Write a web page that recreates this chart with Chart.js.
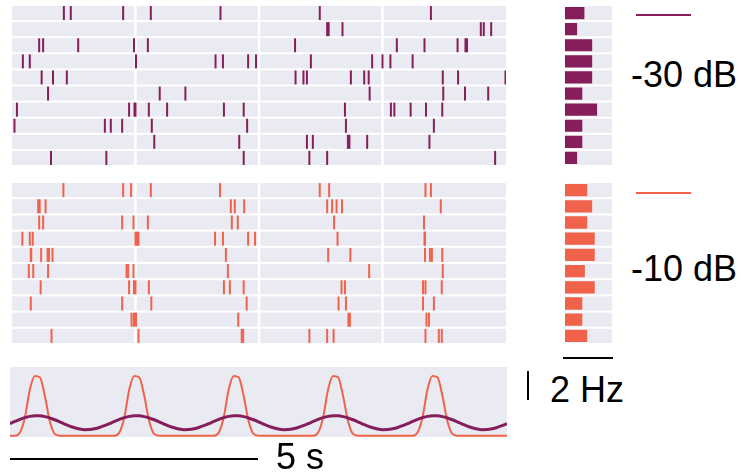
<!DOCTYPE html>
<html>
<head>
<meta charset="utf-8">
<script src="https://cdn.jsdelivr.net/npm/chart.js@4"></script>
<style>
  body { margin: 0; background: #fff; width: 741px; height: 473px; position: relative; overflow: hidden; }
  canvas, .lbl, .bar { position: absolute; }
  .lbl { font-family: "Liberation Sans", Arial, sans-serif; font-size: 36px; line-height: 36px; color: #000; white-space: nowrap; }
  .bar { background: #000; }
</style>
</head>
<body>
<canvas id="rasterQuiet" width="494" height="161" style="left:12px;top:5px"></canvas>
<canvas id="rasterLoud" width="494" height="162" style="left:12px;top:182px"></canvas>
<canvas id="histQuiet" width="47" height="161" style="left:565px;top:5px"></canvas>
<canvas id="histLoud" width="47" height="162" style="left:565px;top:182px"></canvas>
<canvas id="stim" width="497" height="70" style="left:10px;top:367px"></canvas>

<div class="bar" style="left:636px;top:14px;width:55px;height:2px;background:#851e5a"></div>
<div class="bar" style="left:636px;top:192px;width:55px;height:2px;background:#f1624a"></div>
<div class="lbl" style="left:631px;top:57px">-30 dB</div>
<div class="lbl" style="left:631px;top:251px">-10 dB</div>
<div class="bar" style="left:563px;top:357px;width:50px;height:2px"></div>
<div class="bar" style="left:527px;top:371px;width:2px;height:29px"></div>
<div class="lbl" style="left:550px;top:372px">2 Hz</div>
<div class="bar" style="left:10px;top:458px;width:248px;height:2px"></div>
<div class="lbl" style="left:276px;top:439px">5 s</div>

<script>
// colours
const PURPLE = "#851e5a";
const ORANGE = "#f1624a";
const GRAY = "#eaeaf2";

// trials and the 2.5 s blocks each raster row is split into
const trials = [1, 2, 3, 4, 5, 6, 7, 8, 9, 10];
const segmentEdges = [0, 2.5, 5, 7.5, 10];

// spike times (s), one list per trial
const quietSpikes = [
    [1.05, 1.19, 2.25, 2.81, 4.22, 6.23, 8.48],
    [6.38, 6.41, 6.69, 9.49, 9.55, 9.70],
    [0.55, 0.63, 1.34, 2.47, 2.75, 5.73, 7.79, 8.35, 9.02, 9.18, 9.21],
    [0.22, 0.36, 2.51, 4.12, 4.27, 4.78, 4.94, 6.05, 7.29, 7.50, 7.66, 8.11],
    [0.60, 0.83, 1.11, 5.74, 5.90, 5.97, 6.86, 7.13, 7.22, 8.72, 9.03, 9.99],
    [0.73, 2.99, 3.51, 7.24, 8.73, 9.17, 9.64],
    [0.10, 2.37, 2.48, 2.50, 2.77, 3.14, 4.29, 4.69, 6.74, 7.67, 7.74, 8.07, 8.38, 8.71],
    [0.05, 1.88, 2.00, 2.23, 2.83, 4.76, 6.76, 8.54],
    [2.88, 4.60, 5.97, 6.09, 6.80, 6.83, 7.19, 8.45],
    [0.79, 1.91, 4.69, 6.02, 6.38, 9.78],
];

const loudSpikes = [
    [1.04, 2.25, 2.41, 2.81, 4.21, 6.23, 6.42, 8.37, 8.48],
    [0.53, 0.56, 0.68, 4.43, 4.51, 4.70, 6.38, 6.48, 6.57, 6.68, 8.68],
    [0.55, 0.63, 2.23, 2.46, 2.75, 4.45, 4.57, 6.52, 8.34],
    [0.21, 0.36, 0.42, 2.50, 2.53, 2.56, 4.11, 4.27, 4.78, 4.92, 6.59, 8.35, 8.36],
    [0.38, 0.39, 0.59, 0.72, 0.75, 0.82, 4.33, 6.40, 6.85, 8.36, 8.46, 8.50, 8.71],
    [0.34, 0.43, 0.73, 2.32, 2.35, 2.46, 4.37, 7.23, 8.72],
    [0.58, 2.37, 2.47, 2.50, 2.77, 4.29, 4.41, 4.69, 6.67, 6.74, 8.32, 8.37, 8.70],
    [0.38, 2.23, 2.82, 4.75, 6.61, 6.76, 8.32, 8.54],
    [2.42, 2.47, 2.51, 4.58, 6.81, 6.84, 8.39, 8.44],
    [0.80, 2.56, 4.65, 4.68, 6.02, 6.38, 6.51, 8.37, 8.64, 8.70],
];

// mean rate per trial (Hz)
const quietRate = [0.87, 0.56, 1.20, 1.20, 1.20, 0.78, 1.41, 0.78, 0.78, 0.56];
const loudRate = [0.99, 1.20, 0.99, 1.31, 1.31, 0.89, 1.31, 0.78, 0.78, 0.99];

// stimulus envelopes (Hz) against time (s)
const stimTime = [
    0, 0.1, 0.2, 0.3, 0.4, 0.5, 0.6, 0.7, 0.8, 0.9, 1, 1.1, 1.2, 1.3, 1.4, 1.5, 1.6, 1.7, 1.8, 1.9,
    2, 2.1, 2.2, 2.3, 2.4, 2.5, 2.6, 2.7, 2.8, 2.9, 3, 3.1, 3.2, 3.3, 3.4, 3.5, 3.6, 3.7, 3.8, 3.9,
    4, 4.1, 4.2, 4.3, 4.4, 4.5, 4.6, 4.7, 4.8, 4.9, 5, 5.1, 5.2, 5.3, 5.4, 5.5, 5.6, 5.7, 5.8, 5.9,
    6, 6.1, 6.2, 6.3, 6.4, 6.5, 6.6, 6.7, 6.8, 6.9, 7, 7.1, 7.2, 7.3, 7.4, 7.5, 7.6, 7.7, 7.8, 7.9,
    8, 8.1, 8.2, 8.3, 8.4, 8.5, 8.6, 8.7, 8.8, 8.9, 9, 9.1, 9.2, 9.3, 9.4, 9.5, 9.6, 9.7, 9.8, 9.9,
    10,
];
const stimQuiet = [
    0.93, 1.10, 1.26, 1.39, 1.49, 1.54, 1.53, 1.47, 1.37, 1.23, 1.07, 0.90, 0.74, 0.61, 0.51, 0.46, 0.47, 0.53, 0.63, 0.77,
    0.93, 1.10, 1.26, 1.39, 1.49, 1.54, 1.53, 1.47, 1.37, 1.23, 1.07, 0.90, 0.74, 0.61, 0.51, 0.46, 0.47, 0.53, 0.63, 0.77,
    0.93, 1.10, 1.26, 1.39, 1.49, 1.54, 1.53, 1.47, 1.37, 1.23, 1.07, 0.90, 0.74, 0.61, 0.51, 0.46, 0.47, 0.53, 0.63, 0.77,
    0.93, 1.10, 1.26, 1.39, 1.49, 1.54, 1.53, 1.47, 1.37, 1.23, 1.07, 0.90, 0.74, 0.61, 0.51, 0.46, 0.47, 0.53, 0.63, 0.77,
    0.93, 1.10, 1.26, 1.39, 1.49, 1.54, 1.53, 1.47, 1.37, 1.23, 1.07, 0.90, 0.74, 0.61, 0.51, 0.46, 0.47, 0.53, 0.63, 0.77,
    0.93,
];
const stimLoud = [
    0, 0, 0.24, 1.41, 3.57, 4.61, 4.51, 3.10, 1.13, 0.14, 0, 0, 0, 0, 0, 0, 0, 0, 0, 0,
    0, 0, 0.24, 1.41, 3.57, 4.61, 4.51, 3.10, 1.13, 0.14, 0, 0, 0, 0, 0, 0, 0, 0, 0, 0,
    0, 0, 0.24, 1.41, 3.57, 4.61, 4.51, 3.10, 1.13, 0.14, 0, 0, 0, 0, 0, 0, 0, 0, 0, 0,
    0, 0, 0.24, 1.41, 3.57, 4.61, 4.51, 3.10, 1.13, 0.14, 0, 0, 0, 0, 0, 0, 0, 0, 0, 0,
    0, 0, 0.24, 1.41, 3.57, 4.61, 4.51, 3.10, 1.13, 0.14, 0, 0, 0, 0, 0, 0, 0, 0, 0, 0,
    0,
];

// gray row backgrounds, drawn before the marks
const bands = {
    id: "bands",
    beforeDatasetsDraw(chart, args, opts) {
        const { ctx, chartArea, scales } = chart;
        ctx.save();
        ctx.fillStyle = GRAY;
        if (opts.mode === "raster") {
            trials.forEach((r) => {
                const y0 = scales.y.getPixelForValue(r - 0.5);
                const y1 = scales.y.getPixelForValue(r + 0.5);
                for (let i = 0; i < segmentEdges.length - 1; i++) {
                    const xa = scales.x.getPixelForValue(segmentEdges[i]) + (i > 0 ? 1.2 : 0);
                    const xb = scales.x.getPixelForValue(segmentEdges[i + 1]) - (i < segmentEdges.length - 2 ? 1.2 : 0);
                    ctx.fillRect(xa, Math.min(y0, y1) + 1, xb - xa, Math.abs(y1 - y0) - 2);
                }
            });
        } else if (opts.mode === "hist") {
            const pitch = chartArea.height / trials.length;
            trials.forEach((r, i) => {
                const yc = scales.y.getPixelForValue(i);
                ctx.fillRect(chartArea.left, yc - pitch / 2 + 1, chartArea.width, pitch - 2);
            });
        } else {
            ctx.fillRect(chartArea.left, chartArea.top, chartArea.width, chartArea.height);
        }
        ctx.restore();
    },
};

const hidden = { display: false };
const flat = { autoPadding: false, padding: 0 };

function raster(id, spikes, color) {
    const pts = [];
    spikes.forEach((row, i) => row.forEach((t) => pts.push({ x: t, y: trials[i] })));
    new Chart(document.getElementById(id), {
        type: "scatter",
        data: {
            datasets: [{
                data: pts,
                pointStyle: "line",
                rotation: 90,
                pointRadius: 7,
                pointBorderWidth: 2,
                pointBorderColor: color,
                borderColor: color,
                clip: false,
            }],
        },
        options: {
            responsive: false,
            animation: false,
            devicePixelRatio: 1,
            events: [],
            layout: flat,
            plugins: { legend: hidden, tooltip: { enabled: false }, bands: { mode: "raster" } },
            scales: {
                x: { type: "linear", min: 0, max: 10, display: false },
                y: { type: "linear", min: 0.5, max: 10.5, reverse: true, display: false },
            },
        },
        plugins: [bands],
    });
}

function hist(id, rates, color) {
    new Chart(document.getElementById(id), {
        type: "bar",
        data: {
            labels: trials,
            datasets: [{
                data: rates,
                backgroundColor: color,
                borderColor: "rgba(255,255,255,0.5)",
                borderWidth: 1,
                categoryPercentage: 1,
                barPercentage: 0.88,
            }],
        },
        options: {
            indexAxis: "y",
            responsive: false,
            animation: false,
            devicePixelRatio: 1,
            events: [],
            layout: flat,
            plugins: { legend: hidden, tooltip: { enabled: false }, bands: { mode: "hist" } },
            scales: {
                x: { min: 0, max: 2, display: false },
                y: { display: false },
            },
        },
        plugins: [bands],
    });
}

raster("rasterQuiet", quietSpikes, PURPLE);
raster("rasterLoud", loudSpikes, ORANGE);
hist("histQuiet", quietRate, PURPLE);
hist("histLoud", loudRate, ORANGE);

new Chart(document.getElementById("stim"), {
    type: "line",
    data: {
        datasets: [
            {
                data: stimTime.map((t, i) => ({ x: t, y: stimQuiet[i] })),
                borderColor: PURPLE,
                borderWidth: 3,
                pointRadius: 0,
                cubicInterpolationMode: "monotone",
                order: 0,
                clip: false,
            },
            {
                data: stimTime.map((t, i) => ({ x: t, y: stimLoud[i] })),
                borderColor: ORANGE,
                borderWidth: 2,
                pointRadius: 0,
                cubicInterpolationMode: "monotone",
                order: 1,
                clip: false,
            },
        ],
    },
    options: {
        responsive: false,
        animation: false,
        devicePixelRatio: 1,
        events: [],
        layout: flat,
        plugins: { legend: hidden, tooltip: { enabled: false }, bands: { mode: "full" } },
        scales: {
            x: { type: "linear", min: 0, max: 10, display: false },
            y: { min: -0.1, max: 5.3, display: false },
        },
    },
    plugins: [bands],
});
</script>
</body>
</html>
